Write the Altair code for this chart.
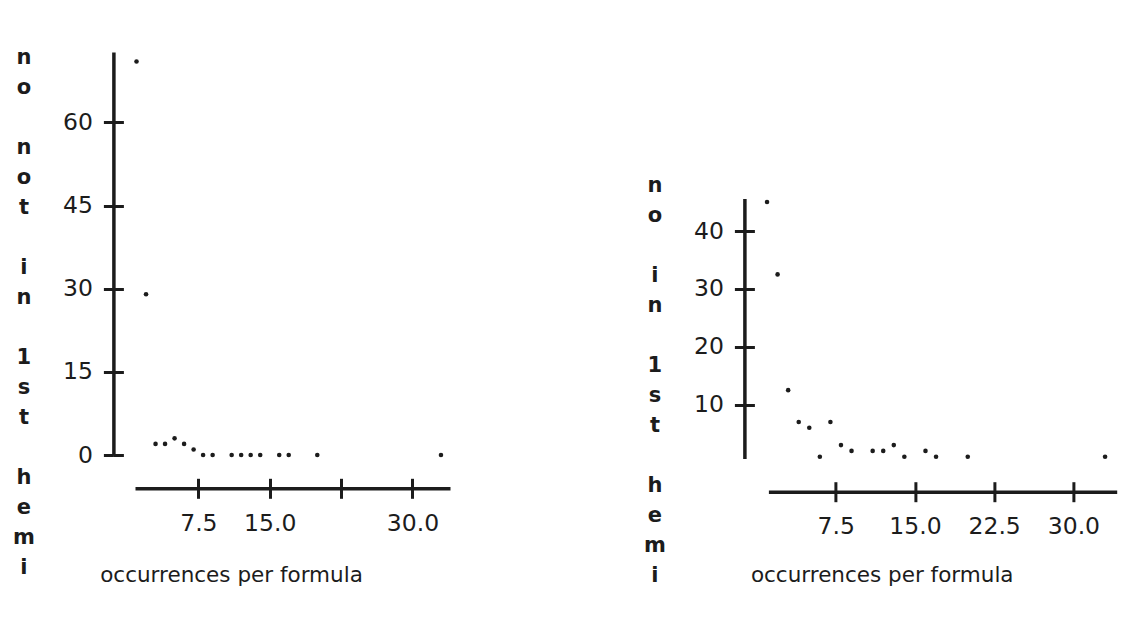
import altair as alt
import pandas as pd

# ---- data ----
x_vals = [1, 2, 3, 4, 5, 6, 7, 8, 9, 11, 12, 13, 14, 16, 17, 20, 33]
left_y = [71, 29, 2, 2, 3, 2, 1, 0, 0, 0, 0, 0, 0, 0, 0, 0, 0]
right_y = [45, 32.5, 12.5, 7, 6, 1, 7, 3, 2, 2, 2, 3, 1, 2, 1, 1, 1]

x_ticks = [7.5, 15.0, 22.5, 30.0]
left_y_ticks = [0, 15, 30, 45, 60]
right_y_ticks = [10, 20, 30, 40]

x_title = "occurrences per formula"
left_y_title = "no not in 1st hemi"
right_y_title = "no in 1st hemi"

FONT = "DejaVu Sans"
INK = "#1c1c1c"
TICK = 10


def stacked(text):
    # one character per line; a word gap becomes a blank (braille-blank) line
    return [c if c != " " else "\u2800" for c in text]


def panel(ys, y_ticks, x_dom, y_dom, y_range, width, height, x_off, y_off,
          y_title, y_title_y, x_title_x, x_title_y, x_label_expr):
    df = pd.DataFrame({"x": x_vals, "y": ys})
    xs = alt.Scale(domain=x_dom, nice=False, zero=False)
    if y_range is None:
        ys_ = alt.Scale(domain=y_dom, nice=False, zero=False)
    else:
        ys_ = alt.Scale(domain=y_dom, range=y_range, nice=False, zero=False)

    main = alt.Chart(df).mark_circle(size=21, color=INK, opacity=1).encode(
        x=alt.X("x:Q", scale=xs, axis=alt.Axis(
            orient="bottom", offset=x_off, values=x_ticks, labelExpr=x_label_expr,
            title=x_title, titleX=x_title_x, titleY=x_title_y, titleAlign="center",
            titleBaseline="alphabetic", titleFontSize=21.5, titleFontWeight="normal",
            labelPadding=13, tickSize=TICK)),
        y=alt.Y("y:Q", scale=ys_, axis=alt.Axis(
            orient="left", offset=y_off, values=y_ticks, format="d",
            title=stacked(y_title), titleAngle=0, titleX=-90, titleY=y_title_y,
            titleAlign="center", titleBaseline="alphabetic", titleLineHeight=30,
            titleFontSize=21, titleFontWeight="bold",
            labelPadding=11, tickSize=TICK)),
    )
    ghost = alt.Chart(df).mark_circle(size=21, opacity=0).encode(
        x=alt.X("x:Q", scale=xs, axis=alt.Axis(
            orient="bottom", offset=x_off - TICK, values=x_ticks, labels=False,
            domain=False, title=None, tickSize=TICK)),
        y=alt.Y("y:Q", scale=ys_, axis=alt.Axis(
            orient="left", offset=y_off - TICK, values=y_ticks, labels=False,
            domain=False, title=None, tickSize=TICK)),
    )
    return alt.layer(main, ghost).resolve_axis(x="independent", y="independent").properties(
        width=width, height=height)


H = 403
left = panel(left_y, left_y_ticks, [0.84, 33.95], [0, 72.7], None, 315, H,
             33.3, 21.6, left_y_title, 11.3, 96, 92.7,
             "datum.value == 22.5 ? '' : format(datum.value, '.1f')")
right = panel(right_y, right_y_ticks, [1.13, 34.1], [0.67, 45.6], [406.6, 146.6], 348.3, H,
              36.7, 24, right_y_title, 139.3, 113.3, 89.3,
              "format(datum.value, '.1f')")

chart = alt.hconcat(left, right, spacing=318.4, bounds="flush").properties(
    padding={"top": 38, "left": 4, "right": 5, "bottom": 5},
    background="white",
).configure_axis(
    grid=False,
    domainColor=INK, domainWidth=3.5, domainCap="butt",
    tickColor=INK, tickWidth=3,
    labelFont=FONT, labelFontSize=23.5, labelColor=INK,
    titleFont=FONT, titleColor=INK,
).configure_view(stroke=None)

chart.save("out.html", embed_options={"renderer": "svg", "actions": False})
